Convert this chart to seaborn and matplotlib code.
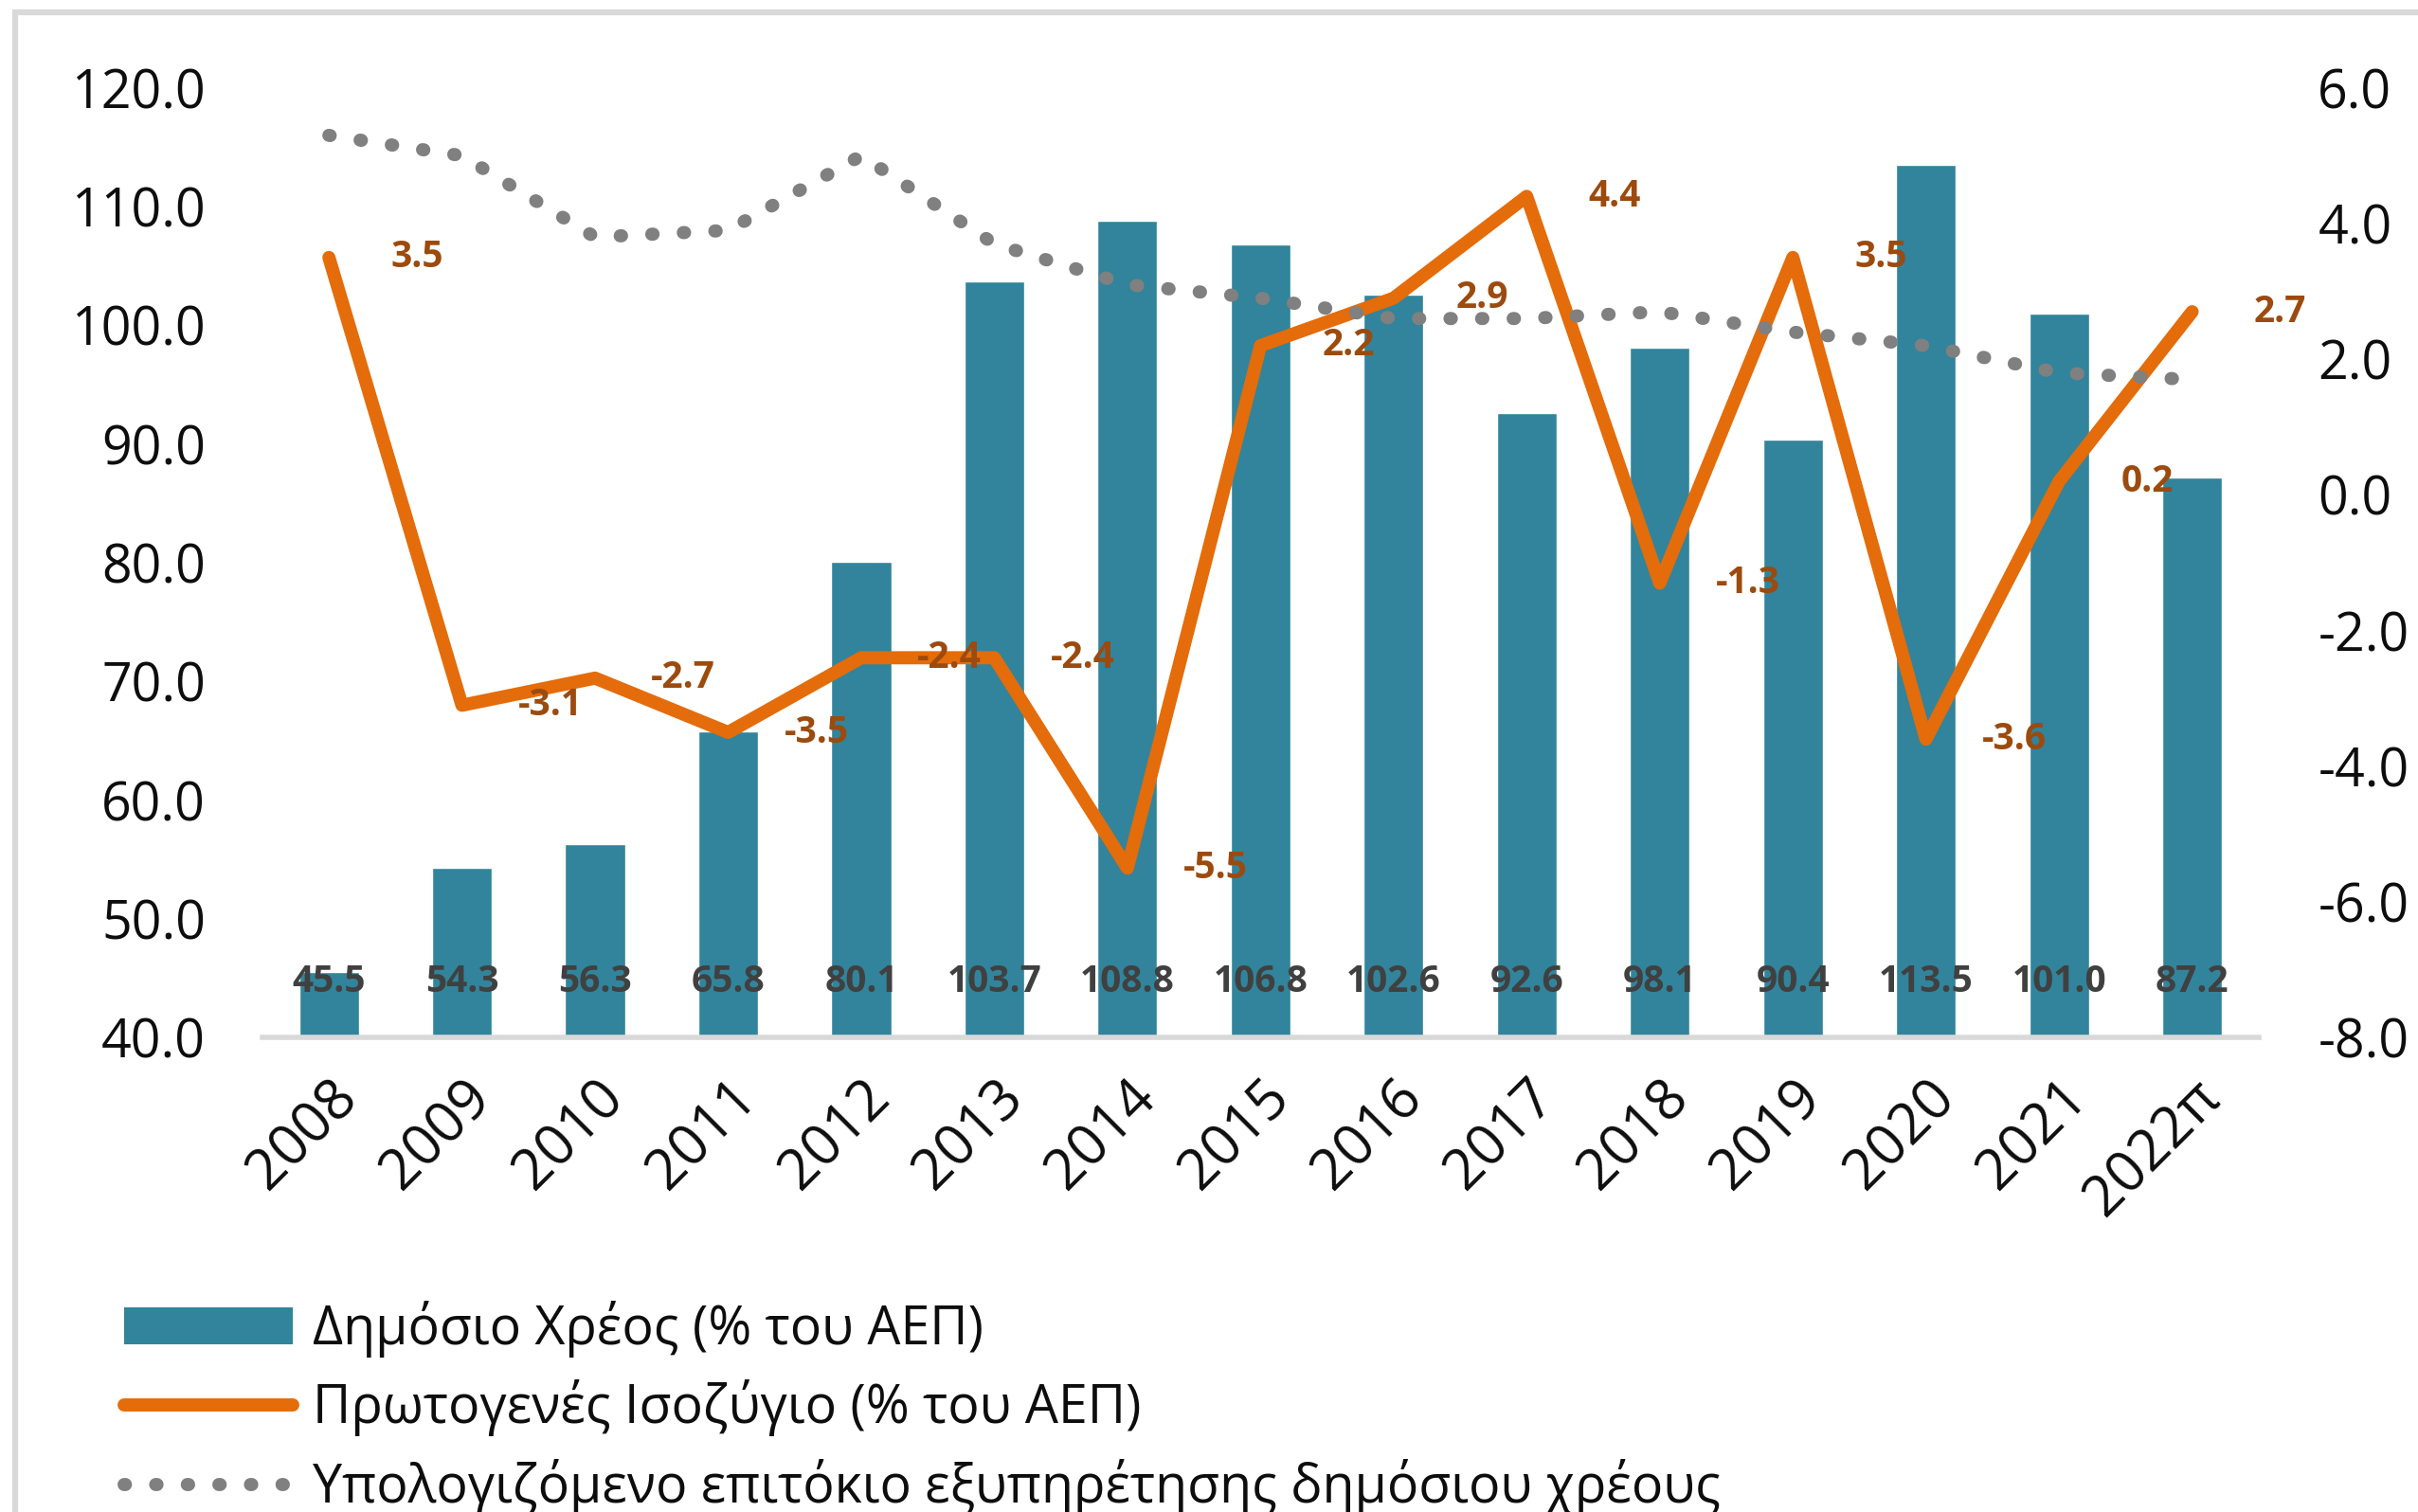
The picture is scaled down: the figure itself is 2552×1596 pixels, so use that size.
import matplotlib
matplotlib.use("Agg")
import matplotlib.pyplot as plt
import numpy as np
import pandas as pd
import seaborn as sns
from matplotlib.lines import Line2D
from matplotlib.patches import Patch, Rectangle

# data
years = ["2008", "2009", "2010", "2011", "2012", "2013", "2014", "2015",
         "2016", "2017", "2018", "2019", "2020", "2021", "2022π"]
debt = [45.5, 54.3, 56.3, 65.8, 80.1, 103.7, 108.8, 106.8,
        102.6, 92.6, 98.1, 90.4, 113.5, 101.0, 87.2]
balance = [3.5, -3.1, -2.7, -3.5, -2.4, -2.4, -5.5, 2.2,
           2.9, 4.4, -1.3, 3.5, -3.6, 0.2, 2.7]
rate = [5.3, 5.0, 3.8, 3.9, 5.0, 3.7, 3.1, 2.9,
        2.6, 2.6, 2.7, 2.4, 2.2, 1.8, 1.7]

legend_labels = ["Δημόσιο Χρέος (% του ΑΕΠ)",
                 "Πρωτογενές Ισοζύγιο (% του ΑΕΠ)",
                 "Υπολογιζόμενο επιτόκιο εξυπηρέτησης δημόσιου χρέους"]

BLUE = "#31849B"
ORANGE = "#E46C0A"
ORANGE_TXT = "#9C4A0E"
GRAY = "#808080"
LIGHT = "#D9D9D9"

sns.set_theme(style="white")
plt.rcParams["font.family"] = ["Open Sans", "DejaVu Sans"]
plt.rcParams["axes.unicode_minus"] = False

df = pd.DataFrame({"year": years, "debt": debt, "balance": balance, "rate": rate})
df["pos"] = np.arange(len(df))

fig = plt.figure(figsize=(25.52, 15.96), dpi=100)
ax = fig.add_axes([0.1085, 0.3137, 0.8256, 0.6282])

# bars: public debt (left axis)
sns.barplot(data=df, x="pos", y="debt", color=BLUE, saturation=1,
            width=0.45, ax=ax)
for i, v in enumerate(debt):
    ax.text(i, 44.7, f"{v:.1f}", ha="center", va="center",
            color="#404040", fontsize=28, fontweight="bold")

# lines: primary balance and interest rate (right axis)
ax2 = ax.twinx()
sns.lineplot(data=df, x="pos", y="balance", color=ORANGE, linewidth=10,
             solid_capstyle="round", solid_joinstyle="round", ax=ax2)
sns.lineplot(data=df, x="pos", y="rate", color=GRAY, linewidth=10,
             linestyle=(0, (0.1, 2.3)), dash_capstyle="round", ax=ax2)
for i, v in enumerate(balance):
    ax2.annotate(f"{v:.1f}", (i, v), xytext=(67, 0), textcoords="offset points",
                 ha="center", va="center", color=ORANGE_TXT,
                 fontsize=28, fontweight="bold")

ax.set_ylim(40, 120)
ax.set_yticks(np.arange(40, 121, 10))
ax.set_yticklabels([f"{t:.1f}" for t in np.arange(40, 121, 10)])
ax2.set_ylim(-8, 6)
ax2.set_yticks(np.arange(-8, 7, 2))
ax2.set_yticklabels([f"{t:.1f}" for t in np.arange(-8, 7, 2)])
ax.set_xlim(-0.5, 14.5)
ax.set_xticks(range(len(years)))
ax.set_xticklabels(years, rotation=45, ha="right", rotation_mode="anchor")

for a in (ax, ax2):
    a.set_xlabel("")
    a.set_ylabel("")
    for s in a.spines.values():
        s.set_visible(False)
ax.spines["bottom"].set_visible(True)
ax.spines["bottom"].set_color(LIGHT)
ax.spines["bottom"].set_linewidth(4)

ax.tick_params(axis="y", length=0, pad=43, labelsize=40, labelcolor="#0D0D0D")
ax2.tick_params(axis="y", length=0, pad=45, labelsize=40, labelcolor="#0D0D0D")
ax.tick_params(axis="x", length=0, pad=24, labelsize=43, labelcolor="#0D0D0D")

# outer chart border
fig.add_artist(Rectangle((16 / 2552, -0.05), 1.1, 1.05 - 13 / 1596,
                         transform=fig.transFigure, fill=False,
                         edgecolor=LIGHT, linewidth=4.5))

handles = [
    Patch(facecolor=BLUE, edgecolor="none"),
    Line2D([], [], color=ORANGE, linewidth=10, solid_capstyle="round"),
    Line2D([], [], color=GRAY, linewidth=10, linestyle=(0, (0.1, 2.3)),
           dash_capstyle="round"),
]
fig.legend(handles, legend_labels, loc="upper left",
           bbox_to_anchor=(0.0513, 0.1400), frameon=False, fontsize=40,
           handlelength=3.2, handletextpad=0.38, labelspacing=0.43,
           borderpad=0, borderaxespad=0, labelcolor="#0D0D0D")

fig.savefig("out.png", dpi=100)
